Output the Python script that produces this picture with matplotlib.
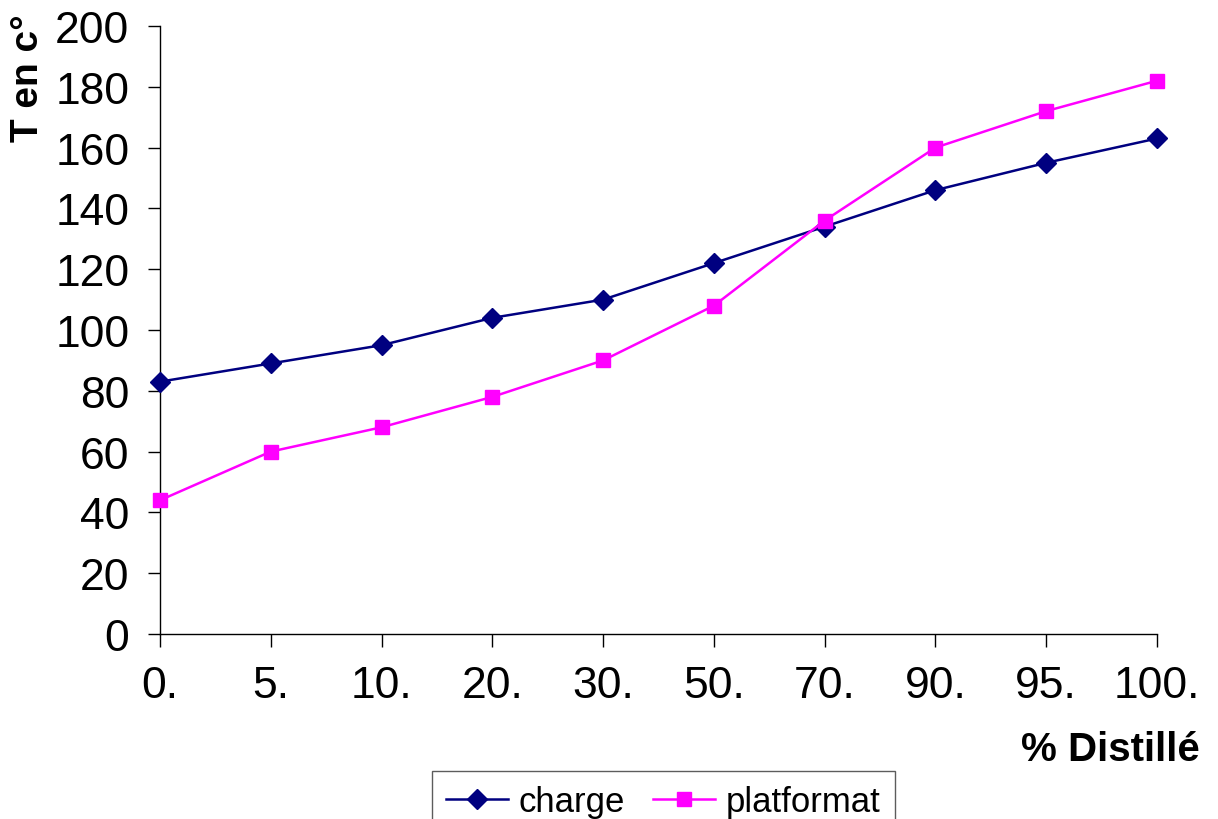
import matplotlib.pyplot as plt

# data
categories = ["0.", "5.", "10.", "20.", "30.", "50.", "70.", "90.", "95.", "100."]
charge = [83, 89, 95, 104, 110, 122, 134, 146, 155, 163]
platformat = [44, 60, 68, 78, 90, 108, 136, 160, 172, 182]

plt.rcParams['font.family'] = ['Liberation Sans', 'DejaVu Sans']

fig = plt.figure(figsize=(12.18, 8.2), dpi=100)
ax = fig.add_axes([160/1218, 1-635/820, (1157-160)/1218, (635-27)/820])

x = list(range(len(categories)))
ax.plot(x, charge, color="#000080", lw=1.8, marker="D", ms=10,
        mfc="#000080", mec="#000080", label="charge", clip_on=False, zorder=3)
ax.plot(x, platformat, color="#FF00FF", lw=1.8, marker="s", ms=10,
        mfc="#FF00FF", mec="#FF00FF", label="platformat", clip_on=False, zorder=3)

ax.set_xlim(0, len(categories) - 1)
ax.set_ylim(0, 200)
ax.set_yticks(range(0, 201, 20))
ax.set_xticks(x)
ax.set_xticklabels(categories)

for s in ["top", "right"]:
    ax.spines[s].set_visible(False)
for s in ["left", "bottom"]:
    ax.spines[s].set_linewidth(1.0)
    ax.spines[s].set_color("black")

ax.tick_params(axis="y", direction="out", length=9, width=1, pad=13, labelsize=32)
ax.tick_params(axis="x", direction="out", length=9, width=1, pad=13, labelsize=32)

fig.text(28/1218, 1-78/820, "T en c°", rotation=90, ha="center", va="center",
         fontsize=28, fontweight="bold")
fig.text(1200/1218, 1-750/820, "% Distillé", ha="right", va="center",
         fontsize=29, fontweight="bold")

leg = fig.legend(loc="upper left", bbox_to_anchor=(432/1218, 1-772/820), ncol=2,
                 fontsize=25, frameon=True, fancybox=False, borderaxespad=0,
                 borderpad=0.4, handlelength=1.8, columnspacing=0.8,
                 handletextpad=0.3)
leg.get_frame().set_edgecolor("#333333")
leg.get_frame().set_linewidth(1.0)

fig.savefig("out.png", dpi=100)
